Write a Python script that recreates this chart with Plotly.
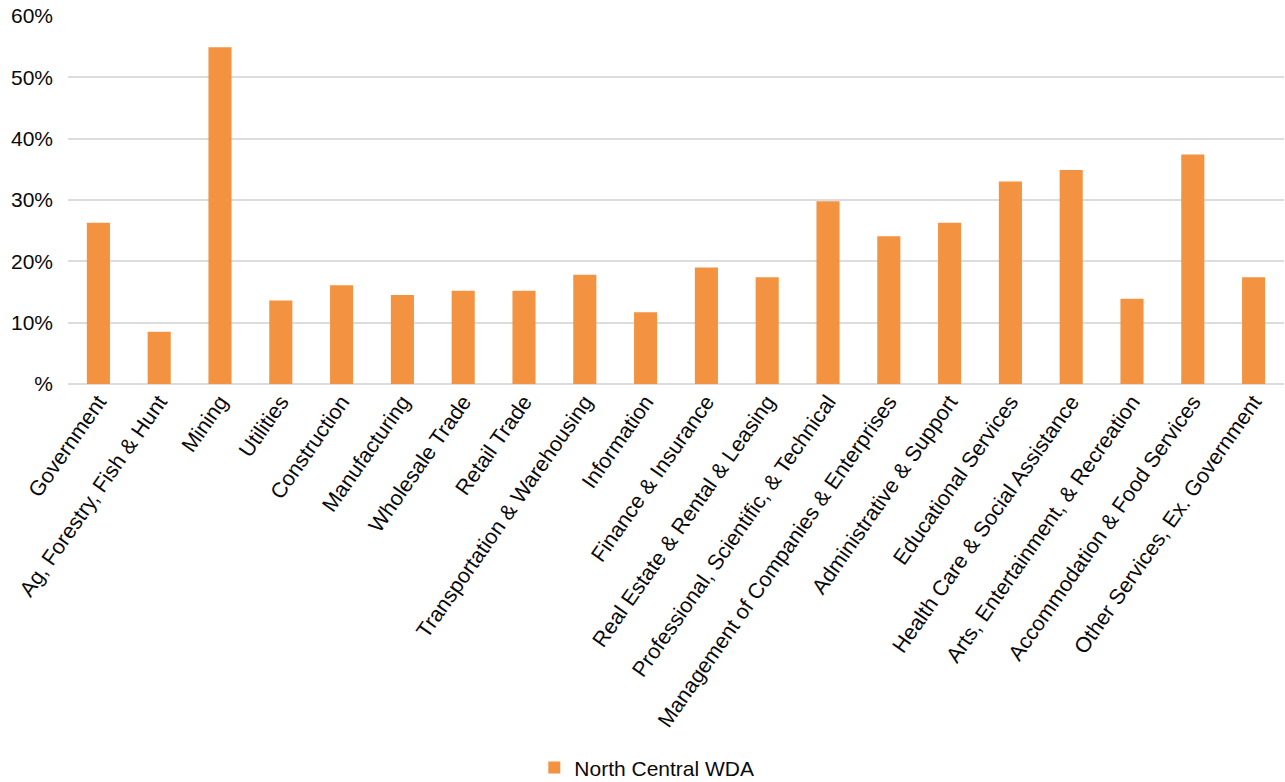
import plotly.graph_objects as go

# Industry categories and their shares
industries = [
    "Government",
    "Ag, Forestry, Fish & Hunt",
    "Mining",
    "Utilities",
    "Construction",
    "Manufacturing",
    "Wholesale Trade",
    "Retail Trade",
    "Transportation & Warehousing",
    "Information",
    "Finance & Insurance",
    "Real Estate & Rental & Leasing",
    "Professional, Scientific, & Technical",
    "Management of Companies & Enterprises",
    "Administrative & Support",
    "Educational Services",
    "Health Care & Social Assistance",
    "Arts, Entertainment, & Recreation",
    "Accommodation & Food Services",
    "Other Services, Ex. Government",
]
north_central_wda = [
    26.3, 8.5, 54.9, 13.6, 16.1, 14.5, 15.2, 15.2, 17.8, 11.7,
    19.0, 17.4, 29.8, 24.1, 26.3, 33.0, 34.9, 13.9, 37.4, 17.4,
]

y_tick_values = [0, 10, 20, 30, 40, 50, 60]
y_tick_labels = ["%", "10%", "20%", "30%", "40%", "50%", "60%"]

FONT = "Liberation Sans, Arial, Helvetica, sans-serif"

fig = go.Figure()
fig.add_trace(go.Bar(
    x=industries,
    y=north_central_wda,
    name="North Central WDA",
    marker=dict(color="#F39240", line=dict(width=0)),
    showlegend=True,
))

fig.update_layout(
    width=1285,
    height=782,
    margin=dict(l=68, r=1, t=16, b=398),
    paper_bgcolor="white",
    plot_bgcolor="white",
    bargap=0.62,
    font=dict(family=FONT, size=21, color="#0a0a0a"),
    showlegend=True,
    legend=dict(
        orientation="h",
        x=0.476, xanchor="center",
        yref="container", y=0.018, yanchor="middle",
        font=dict(size=21, color="#0a0a0a"),
        itemwidth=30,
    ),
    xaxis=dict(
        tickangle=-55,
        showgrid=False,
        showline=False,
        ticks="",
        tickfont=dict(size=21.5),
    ),
    yaxis=dict(
        range=[0, 60],
        tickvals=y_tick_values,
        ticktext=y_tick_labels,
        showgrid=True,
        gridcolor="#DCDCDC",
        gridwidth=2,
        zeroline=True,
        zerolinecolor="#DCDCDC",
        zerolinewidth=2,
        ticks="",
        ticklabelstandoff=14,
        tickfont=dict(size=21),
    ),
)

fig.write_html("out.html")
